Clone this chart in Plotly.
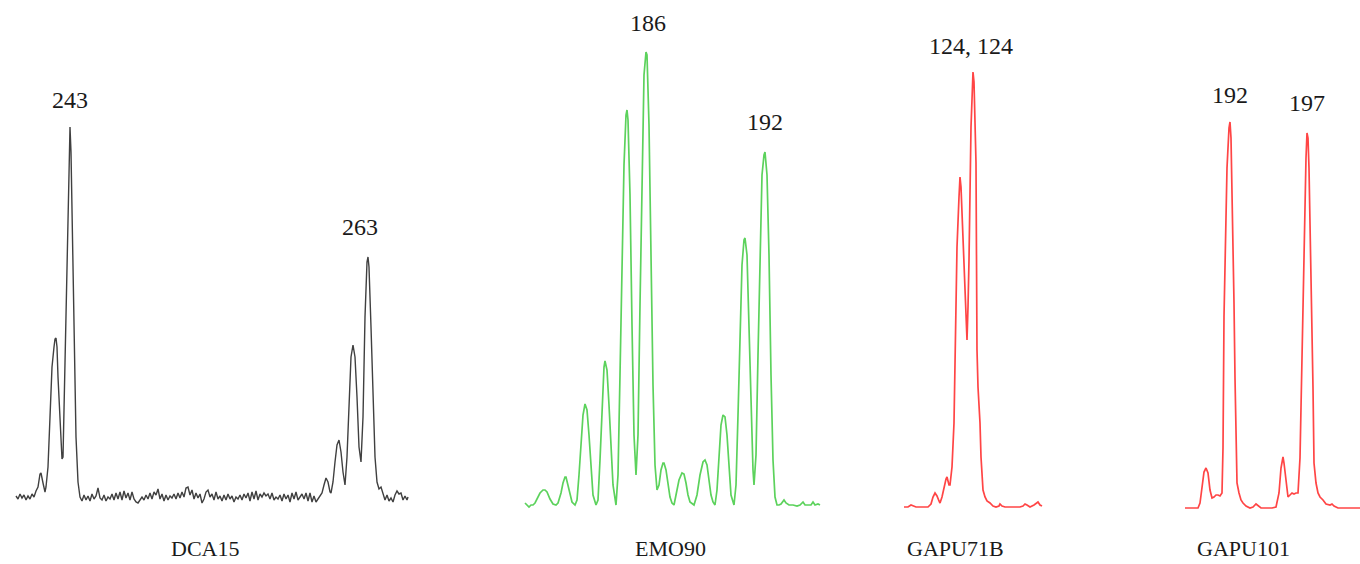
import plotly.graph_objects as go

# ---------------- data (scan position, signal height above baseline) ----------------
markers = ["DCA15", "EMO90", "GAPU71B", "GAPU101"]

dca15_scan = [16, 18, 20, 22, 24, 26, 28, 30, 32, 34, 36, 38, 40, 41, 43, 45, 46, 48, 50, 52, 54, 55, 56, 57, 58,
              60, 61, 62, 63, 64, 66, 68, 69, 70, 71, 72, 74, 76, 78,
              80, 82, 84, 86, 88, 90, 92, 94, 96, 98, 100, 102, 104, 106, 108, 110, 112, 114, 116, 118, 120,
              122, 124, 126, 128, 130, 132, 134, 136, 138, 140, 142, 144, 146, 148, 150, 152, 154, 156, 158, 160,
              162, 164, 166, 168, 170, 172, 174, 176, 178, 180, 182, 184, 186, 188, 190, 192, 194, 196, 198, 200,
              202, 204, 206, 208, 210, 212, 214, 216, 218, 220, 222, 224, 226, 228, 230, 232, 234, 236, 238, 240,
              242, 244, 246, 248, 250, 252, 254, 256, 258, 260, 262, 264, 266, 268, 270, 272, 274, 276, 278, 280,
              282, 284, 286, 288, 290, 292, 294, 296, 298, 300, 302, 304, 306, 308, 310, 312, 314, 316, 318,
              320, 322, 324, 326, 328, 330, 331, 333, 335, 337, 339, 341, 343, 345, 347, 349, 351, 353, 355, 357,
              359, 361, 363, 365, 367, 368, 369, 371, 373, 375, 377, 379, 381, 383, 385,
              387, 389, 391, 393, 395, 397, 399, 401, 403, 405, 407, 408]
dca15_rfu = [1, -2, 3, -1, 2, -3, 1, -2, 3, 0, 6, 10, 23, 24, 14, 5, 10, 30, 80, 130, 150, 158, 159, 150, 120,
             70, 45, 38, 40, 90, 200, 300, 350, 370, 345, 280, 160, 60, 15,
             0, -4, 2, -3, 1, -4, 3, -2, 1, 9, -1, -3, 2, -4, 0, -2, 3, -3, 4, -2, 5,
             -3, 6, -1, 4, -3, 5, -2, -5, -6, -3, 0, -3, 2, -2, 4, -2, 5, 2, 8, -2,
             3, -4, 2, -3, 1, -1, 3, -2, 4, -1, 5, 0, 9, 10, 2, 7, -2, 4, -1, 3,
             -6, -2, 5, 7, 0, 3, -3, 5, -2, 1, -4, 2, -3, 3, -2, 1, -5, 0, -2, 2,
             -3, 3, -1, 4, -4, 5, -2, 6, -3, 3, 0, 4, 1, 3, -2, 4, -3, 0, -2, 2,
             -4, 3, -2, 2, -5, 4, -2, 5, -3, 0, 3, -2, 4, -4, 4, -5, 1, -5, -2,
             0, 4, 12, 19, 15, 5, 4, 15, 35, 52, 57, 45, 25, 12, 40, 100, 140, 152, 140, 100,
             50, 35, 80, 180, 235, 240, 230, 170, 90, 40, 15, 8, 10, 2, -3,
             2, -4, -1, -5, 2, 6, 3, 4, -3, 1, -3, 0]

emo90_scan = [525, 527, 529, 531, 533, 535, 537, 540, 543, 545, 547, 550, 553, 556, 558, 561, 563, 565, 566, 568,
              570, 572, 575, 577, 579, 581, 583, 585, 587, 589, 591, 593, 596, 598, 600, 602, 604, 605, 607, 609,
              611, 613, 616, 618, 620, 622, 624, 626, 627, 628, 630, 632, 634, 636, 638, 640, 642, 644, 646, 647,
              649, 651, 653, 655, 657, 659, 661, 663, 664, 666, 668, 670, 672, 674, 676, 679, 682, 684, 686, 688,
              690, 694, 697, 700, 703, 705, 707, 709, 711, 713, 715, 717, 719, 721, 723, 725, 727, 729, 731, 734,
              736, 738, 740, 742, 744, 745, 747, 749, 751, 753, 754, 756, 758, 760, 762, 764, 765, 767, 769, 771,
              773, 775, 777, 779, 781, 784, 786, 789, 793, 797, 800, 803, 805, 808, 811, 813, 815, 818, 820]
emo90_rfu = [2, 0, -2, 0, 0, 2, 6, 12, 15, 15, 13, 6, 1, 0, 2, 12, 22, 28, 28, 20,
             10, 3, 0, 5, 30, 65, 90, 101, 95, 70, 35, 10, 0, 5, 45, 100, 138, 144, 135, 100,
             55, 20, 0, 30, 130, 250, 340, 390, 395, 385, 310, 180, 70, 30, 70, 200, 340, 430, 453, 450,
             380, 250, 120, 40, 15, 20, 35, 42, 42, 35, 20, 8, 2, 0, 10, 25, 32, 31, 22, 10,
             3, 0, 10, 30, 43, 45, 40, 25, 10, 3, 0, 15, 50, 80, 90, 88, 70, 35, 10, 0,
             20, 90, 180, 240, 265, 267, 250, 180, 90, 35, 20, 50, 150, 260, 330, 350, 353, 330, 250, 130,
             45, 8, 0, 0, 1, 5, 2, 0, 0, -1, 0, 3, 0, 0, 0, 3, 0, 1, 0]

gapu71b_scan = [904, 908, 911, 913, 916, 920, 924, 928, 931, 933, 935, 937, 939, 940, 942, 944, 946, 947, 949, 950,
                952, 954, 955, 957, 959, 960, 961, 962, 964, 966, 967, 968, 969, 971, 972, 973, 974, 975, 976, 977,
                978, 980, 981, 983, 985, 987, 990, 993, 996, 999, 1000, 1002, 1005, 1010, 1015, 1020, 1023, 1025,
                1027, 1030, 1034, 1036, 1038, 1040, 1042]
gapu71b_rfu = [0, 0, 2, 1, 0, 0, 0, 0, 3, 10, 14, 11, 6, 4, 10, 20, 28, 30, 22, 22,
               40, 84, 150, 260, 310, 330, 320, 295, 240, 180, 167, 200, 247, 380, 420, 435, 425, 380, 344, 157,
               120, 84, 50, 17, 10, 6, 4, 1, 0, 1, 3, 1, 0, 0, 0, 0, 1, 3,
               2, 0, 2, 4, 5, 2, 1]

gapu101_scan = [1185, 1190, 1195, 1198, 1200, 1202, 1204, 1206, 1208, 1210, 1212, 1214, 1216, 1218, 1220, 1222,
                1223, 1224, 1225, 1227, 1229, 1230, 1231, 1232, 1233, 1234, 1235, 1236, 1237, 1239, 1241, 1243,
                1246, 1250, 1253, 1256, 1258, 1261, 1265, 1268, 1272, 1276, 1279, 1281, 1283, 1284, 1286, 1288,
                1290, 1292, 1294, 1296, 1298, 1300, 1301, 1302, 1304, 1306, 1307, 1308, 1309, 1310, 1312, 1313,
                1314, 1316, 1318, 1320, 1323, 1326, 1330, 1332, 1334, 1338, 1345, 1352, 1360]
gapu101_rfu = [0, 0, 0, 0, 5, 22, 36, 40, 35, 18, 10, 11, 13, 13, 12, 15,
               60, 191, 250, 340, 380, 386, 370, 320, 260, 205, 130, 60, 25, 15, 8, 5,
               2, 0, 1, 4, 2, 0, 0, 0, 0, 1, 15, 40, 51, 45, 25, 11,
               13, 15, 14, 15, 15, 50, 100, 148, 280, 350, 375, 370, 340, 290, 205, 120,
               45, 25, 15, 11, 8, 4, 3, 4, 2, 0, 0, 0, 0]

# allele calls: (marker index, scan, height, label)
allele_marker = [0, 0, 1, 1, 2, 3, 3]
allele_scan = [70, 360, 648, 765, 971, 1230, 1307]
allele_height = [397, 270, 482, 383, 461, 413, 405]
allele_text = ["243", "263", "186", "192", "124, 124", "192", "197"]

marker_label_scan = [205, 670, 955, 1243]

# ---------------- styling ----------------
colors = ["#404040", "#5cd25c", "#ff4545"]
line_colors = [colors[0], colors[1], colors[2], colors[2]]
widths = [1.4, 1.7, 1.7, 1.7]
baselines = [497, 505, 507, 508]   # vertical offset of each trace's zero in the 564-px frame
W, H = 1360, 564

series = [(dca15_scan, dca15_rfu), (emo90_scan, emo90_rfu),
          (gapu71b_scan, gapu71b_rfu), (gapu101_scan, gapu101_rfu)]

fig = go.Figure()
for i, (sx, sy) in enumerate(series):
    yname = "y" if i == 0 else f"y{i+1}"
    fig.add_trace(go.Scatter(x=sx, y=sy, mode="lines", yaxis=yname, name=markers[i],
                             line=dict(color=line_colors[i], width=widths[i]),
                             hoverinfo="skip", showlegend=False))

layout = dict(
    width=W, height=H, margin=dict(l=0, r=0, t=0, b=0),
    paper_bgcolor="white", plot_bgcolor="white",
    xaxis=dict(range=[0, W], visible=False, fixedrange=True),
)
for i in range(4):
    key = "yaxis" if i == 0 else f"yaxis{i+1}"
    ax = dict(range=[baselines[i] - H, baselines[i]], visible=False, domain=[0, 1], fixedrange=True)
    if i > 0:
        ax["overlaying"] = "y"
    layout[key] = ax
fig.update_layout(**layout)

font_family = "Liberation Serif, Times New Roman, serif"
for m, sx, hy, t in zip(allele_marker, allele_scan, allele_height, allele_text):
    yref = "y" if m == 0 else f"y{m+1}"
    fig.add_annotation(x=sx, y=hy, xref="x", yref=yref, text=t, showarrow=False,
                       xanchor="center", yanchor="middle",
                       font=dict(family=font_family, size=24, color="#1a1a1a"))

for name, sx in zip(markers, marker_label_scan):
    fig.add_annotation(x=sx, y=1 - 548 / H, xref="x", yref="paper", text=name, showarrow=False,
                       xanchor="center", yanchor="middle",
                       font=dict(family=font_family, size=22, color="#1a1a1a"))

fig.write_html("out.html", config={"displayModeBar": False},
               post_script="document.body.style.margin='0';document.body.style.overflow='hidden';")
